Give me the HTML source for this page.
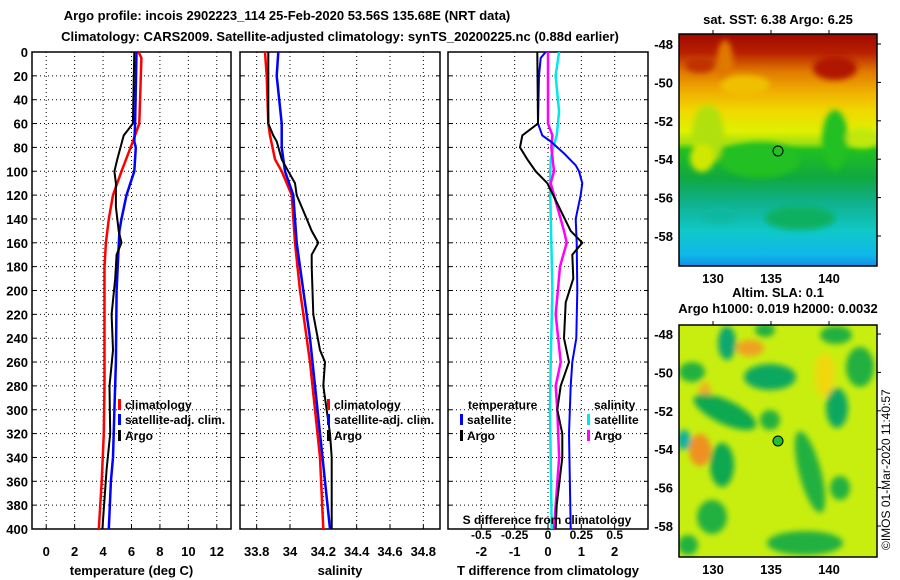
<!DOCTYPE html>
<html><head><meta charset="utf-8">
<style>
html,body{margin:0;padding:0;background:#fff;}
svg{display:block;font-family:"Liberation Sans",Arial,sans-serif;font-weight:bold;}
</style></head>
<body>
<svg id="c" width="900" height="580" viewBox="0 0 900 580" xmlns="http://www.w3.org/2000/svg">
<defs>
<linearGradient id="sstg" x1="0" y1="0" x2="0" y2="1">
<stop offset="0" stop-color="#a00800"/><stop offset="0.08" stop-color="#b82000"/>
<stop offset="0.16" stop-color="#e07800"/><stop offset="0.25" stop-color="#f0b000"/>
<stop offset="0.33" stop-color="#f0d800"/><stop offset="0.42" stop-color="#e0f000"/>
<stop offset="0.47" stop-color="#a0e010"/><stop offset="0.50" stop-color="#20c020"/>
<stop offset="0.62" stop-color="#10a840"/><stop offset="0.72" stop-color="#10b088"/>
<stop offset="0.85" stop-color="#10c8c8"/><stop offset="0.95" stop-color="#10b8e8"/>
<stop offset="1" stop-color="#1090e8"/></linearGradient>
<filter id="bl" x="-50%" y="-50%" width="200%" height="200%"><feGaussianBlur stdDeviation="3"/></filter>
<clipPath id="clipTop"><rect x="679" y="34" width="198" height="232"/></clipPath>
<clipPath id="clipBot"><rect x="679" y="325" width="198" height="232"/></clipPath>
</defs>
<text x="287" y="20" font-size="13" text-anchor="middle">Argo profile: incois 2902223_114 25-Feb-2020 53.56S 135.68E (NRT data)</text>
<text x="340" y="41" font-size="13" text-anchor="middle">Climatology: CARS2009. Satellite-adjusted climatology: synTS_20200225.nc (0.88d earlier)</text>
<g id="plots"></g>
<!-- SST map -->
<g clip-path="url(#clipTop)">
<rect x="679" y="34" width="198" height="232" fill="url(#sstg)"/>
<g filter="url(#bl)">
<ellipse cx="725" cy="62" rx="8" ry="22" fill="#e07800"/>
<ellipse cx="700" cy="65" rx="15" ry="8" fill="#c03000"/>
<ellipse cx="835" cy="68" rx="22" ry="12" fill="#b01800"/>
<ellipse cx="745" cy="85" rx="25" ry="10" fill="#f0c000"/>
<ellipse cx="708" cy="135" rx="16" ry="30" fill="#b0e010"/>
<ellipse cx="702" cy="158" rx="12" ry="14" fill="#d0e800"/>
<ellipse cx="760" cy="160" rx="40" ry="18" fill="#20c020"/>
<ellipse cx="835" cy="140" rx="13" ry="30" fill="#20c020"/>
<ellipse cx="862" cy="138" rx="16" ry="10" fill="#c0e810"/>
<ellipse cx="800" cy="218" rx="35" ry="12" fill="#10b060"/>
<ellipse cx="720" cy="215" rx="18" ry="8" fill="#10b8a0"/>
</g></g>
<rect x="679" y="34" width="198" height="232" fill="none" stroke="#000" stroke-width="1.5"/>
<circle cx="778" cy="151" r="5" fill="none" stroke="#000"/>
<text x="778" y="24" font-size="13" text-anchor="middle">sat. SST: 6.38 Argo: 6.25</text>
<!-- SLA map -->
<g clip-path="url(#clipBot)">
<rect x="679" y="325" width="198" height="232" fill="#c8ee10"/>
<g filter="url(#bl)">
<ellipse cx="750" cy="348" rx="14" ry="8" fill="#f0a020"/>
<ellipse cx="700" cy="450" rx="11" ry="16" fill="#f09020"/>
<ellipse cx="705" cy="392" rx="6" ry="10" fill="#f0b020"/>
<ellipse cx="825" cy="375" rx="10" ry="22" fill="#f0d810"/>
<ellipse cx="727" cy="343" rx="9" ry="17" fill="#10a870"/>
<ellipse cx="770" cy="377" rx="26" ry="13" fill="#10a860"/>
<ellipse cx="725" cy="412" rx="34" ry="12" fill="#10a850" transform="rotate(25 725 412)"/>
<ellipse cx="722" cy="465" rx="12" ry="22" fill="#10a850"/>
<ellipse cx="684" cy="440" rx="7" ry="10" fill="#10b0a0"/>
<ellipse cx="810" cy="472" rx="11" ry="42" fill="#20b040" transform="rotate(-15 810 472)"/>
<ellipse cx="837" cy="408" rx="11" ry="20" fill="#10a860"/>
<ellipse cx="860" cy="367" rx="14" ry="20" fill="#20b040"/>
<ellipse cx="840" cy="488" rx="10" ry="12" fill="#20b040"/>
<ellipse cx="712" cy="517" rx="15" ry="17" fill="#20b040"/>
<ellipse cx="805" cy="543" rx="38" ry="12" fill="#20b040"/>
<ellipse cx="836" cy="335" rx="16" ry="9" fill="#20b040"/>
<ellipse cx="765" cy="330" rx="10" ry="7" fill="#20b040"/>
<ellipse cx="692" cy="372" rx="13" ry="10" fill="#20b040"/>
<ellipse cx="688" cy="545" rx="10" ry="10" fill="#20b040"/>
<ellipse cx="770" cy="420" rx="10" ry="10" fill="#20b040"/>
</g></g>
<rect x="679" y="325" width="198" height="232" fill="none" stroke="#000" stroke-width="1.5"/>
<circle cx="778" cy="441" r="5" fill="#20c030" stroke="#000"/>
<text x="778" y="297" font-size="13" text-anchor="middle">Altim. SLA: 0.1</text>
<text x="778" y="313" font-size="13" text-anchor="middle">Argo h1000: 0.019 h2000: 0.0032</text>
<text transform="translate(890,550) rotate(-90)" font-size="12" font-weight="normal">©IMOS 01-Mar-2020 11:40:57</text>
<g id="maps"></g>
<script>
const depths = [0,20,40,60,80,100,120,140,160,180,200,220,240,260,280,300,320,340,360,380,400];
// Temperature profiles (depth, value)
const tClimD = [0,5,60,75,100,120,140,160,180,240,280,320,360,400];
const tClimV = [6.5,6.7,6.55,6.1,5.3,4.7,4.4,4.2,4.1,4.1,4.1,4.05,3.9,3.7];
const tSatD = [0,60,75,80,100,120,140,150,200,260,300,340,360,400];
const tSatV = [6.35,6.25,6.2,6.3,6.2,5.65,5.3,5.15,4.95,4.9,4.8,4.7,4.55,4.4];
const tArgoD = [0,60,70,90,100,110,130,150,160,170,190,220,250,280,320,350,400];
const tArgoV = [6.2,6.1,5.45,5.0,4.8,4.9,4.9,5.1,5.3,4.95,4.85,4.6,4.7,4.45,4.5,4.25,3.95];
// Salinity profiles
const sClimD = [0,20,60,70,90,100,110,120,160,200,240,260,300,340,400];
const sClimV = [33.85,33.86,33.87,33.88,33.91,33.95,33.98,34.01,34.03,34.06,34.1,34.12,34.15,34.18,34.2];
const sSatD = [0,20,60,80,100,120,160,200,240,280,320,360,400];
const sSatV = [33.93,33.92,33.95,33.95,33.97,34.02,34.04,34.08,34.12,34.15,34.18,34.21,34.24];
const sArgoD = [0,60,70,75,90,100,110,120,140,150,160,170,180,220,250,260,280,320,340,400];
const sArgoV = [33.87,33.87,33.9,33.92,33.95,33.99,34.03,34.04,34.1,34.13,34.17,34.13,34.13,34.14,34.18,34.21,34.2,34.24,34.25,34.25];
// Differences from climatology
const dtSatD = [0,5,20,60,70,75,85,95,100,110,120,140,160,200,240,260,280,320,400];
const dtSatV = [-0.07,-0.22,-0.27,-0.3,-0.17,0.08,0.48,0.83,0.93,1.03,0.98,0.83,0.86,0.88,0.85,0.73,0.68,0.63,0.68];
const dtArgoD = [0,60,70,80,90,100,110,130,150,160,170,190,210,240,260,280,300,320,340,380,400];
const dtArgoV = [-0.32,-0.3,-0.77,-0.84,-0.62,-0.37,-0.02,0.33,0.68,1.03,0.73,0.76,0.53,0.48,0.63,0.38,0.28,0.43,0.43,0.26,0.23];
const dsSatD = [0,20,50,70,80,90,110,200,260,300,340,400];
const dsSatV = [0.083,0.057,0.083,0.065,0.04,0.02,0.015,0.033,0.02,0.015,0.02,0.028];
const dsArgoD = [0,60,70,80,100,110,130,150,160,180,220,260,280,300,340,380,400];
const dsArgoV = [0,0,0.033,0.025,0.045,0.02,0.07,0.12,0.14,0.09,0.058,0.095,0.058,0.07,0.083,0.058,0.045];
const tTicks = [0,2,4,6,8,10,12];
const sTicks = [33.8,34,34.2,34.4,34.6,34.8];
const dTicks = [-2,-1,0,1,2];
const dsTicks = [-0.5,-0.25,0,0.25,0.5];
const dsTickLabels = ["-0.5","-0.25","0","0.25","0.5"];

const NS='http://www.w3.org/2000/svg';
const root=document.getElementById('plots');
const Y0=52, Y1=529;
function yD(d){return Y0+(d/400)*(Y1-Y0);}
function mk(tag,attrs,parent){const e=document.createElementNS(NS,tag);for(const k in attrs)e.setAttribute(k,attrs[k]);(parent||root).appendChild(e);return e;}
function txt(x,y,s,anchor,size,parent){const t=mk('text',{x:x,y:y,'text-anchor':anchor||'middle','font-size':size||13},parent);t.textContent=s;return t;}

function panel(name,x0,x1,lo,hi,xt,xtl,title,showY){
  const g=mk('g',{});
  
  
  const sx=v=>x0+(v-lo)/(hi-lo)*(x1-x0);
  depths.forEach(d=>{
    if(d>0&&d<400){const l=mk('line',{x1:x0,x2:x1,y1:yD(d),y2:yD(d),stroke:'#000','stroke-dasharray':'1,3','stroke-width':1},g);
    
    }
    mk('line',{x1:x0,x2:x0+4,y1:yD(d),y2:yD(d),stroke:'#000'},g);
    mk('line',{x1:x1-4,x2:x1,y1:yD(d),y2:yD(d),stroke:'#000'},g);
    if(showY){const t=txt(x0-4,yD(d)+5,String(d),'end',13,g);
      
      }
  });
  xt.forEach((v,i)=>{
    const X=sx(v);
    const l=mk('line',{x1:X,x2:X,y1:Y0,y2:Y1,stroke:'#000','stroke-dasharray':'1,3'},g);
    
    
    mk('line',{x1:X,x2:X,y1:Y1-4,y2:Y1,stroke:'#000'},g);
    const t=txt(X,Y1+27,xtl?xtl[i]:String(v),'middle',13,g);
    
    
  });
  const f=mk('rect',{x:x0,y:Y0,width:x1-x0,height:Y1-Y0,fill:'none',stroke:'#000','stroke-width':1.5},g);
  
  
  const tt=txt((x0+x1)/2,Y1+46,title,'middle',13,g);
  
  
  return {g,sx};
}
function line(p,sx,D,V,color,w,name){
  const pts=D.map((d,i)=>sx(V[i]).toFixed(1)+','+yD(d).toFixed(1)).join(' ');
  const l=mk('polyline',{points:pts,fill:'none',stroke:color,'stroke-width':w},p.g);
  
  
}
function legend(g,x,y,color,label){
  const m=mk('rect',{x:x,y:y-10,width:3,height:11,fill:color},g);
  
  
  const t=txt(x+7,y,label,'start',12,g);
  
  
}

const p1=panel('temperature-panel',32,231,-1,13,tTicks,null,'temperature (deg C)',true);
line(p1,p1.sx,tClimD,tClimV,'#f00',2.5,'temp-climatology-line');
line(p1,p1.sx,tSatD,tSatV,'#00f',2.5,'temp-satellite-line');
line(p1,p1.sx,tArgoD,tArgoV,'#000',2,'temp-argo-line');
legend(p1.g,118,409,'#f00','climatology');
legend(p1.g,118,424,'#00f','satellite-adj. clim.');
legend(p1.g,118,440,'#000','Argo');

const p2=panel('salinity-panel',240,440,33.7,34.9,sTicks,null,'salinity',false);
line(p2,p2.sx,sClimD,sClimV,'#f00',2.5,'sal-climatology-line');
line(p2,p2.sx,sSatD,sSatV,'#00f',2.5,'sal-satellite-line');
line(p2,p2.sx,sArgoD,sArgoV,'#000',2,'sal-argo-line');
legend(p2.g,327,409,'#f00','climatology');
legend(p2.g,327,424,'#00f','satellite-adj. clim.');
legend(p2.g,327,440,'#000','Argo');

const p3=panel('difference-panel',448,648,-3,3,dTicks,null,'T difference from climatology',false);
const sxS=v=>448+(v+0.75)/1.5*200;
line(p3,sxS,dsSatD,dsSatV,'#00e8e8',2.5,'sal-diff-satellite-line');
line(p3,sxS,dsArgoD,dsArgoV,'#f0f',2.5,'sal-diff-argo-line');
line(p3,p3.sx,dtSatD,dtSatV,'#00f',2,'temp-diff-satellite-line');
line(p3,p3.sx,dtArgoD,dtArgoV,'#000',2,'temp-diff-argo-line');
dsTicks.forEach((v,i)=>{
  const t=txt(sxS(v),539,dsTickLabels[i],'middle',12,p3.g);
  
  
});
const st=txt(547,524,'S difference from climatology','middle',12,p3.g);


const lt=txt(468,409,'temperature','start',12,p3.g);


const ls=txt(594,409,'salinity','start',12,p3.g);


legend(p3.g,460,424,'#00f','satellite');
legend(p3.g,460,440,'#000','Argo');
legend(p3.g,587,424,'#00e8e8','satellite');
legend(p3.g,587,440,'#f0f','Argo');

// map axes
const lats=[-48,-50,-52,-54,-56,-58];
const lons=[130,135,140];
const mg=document.getElementById('maps');
[[34,44],[325,334]].forEach(([top,lat48])=>{
  lats.forEach(la=>{
    const y=lat48+(-48-la)*19.2;
    mk('line',{x1:877,x2:881,y1:y,y2:y,stroke:'#000'},mg);
    const t=txt(673,y+5,String(la),'end',13,mg);
    
    
  });
  lons.forEach(lo=>{
    const x=713+(lo-130)*11.6;
    mk('line',{x1:x,x2:x,y1:top-4,y2:top,stroke:'#000'},mg);
    const t=txt(x,top+232+17,String(lo),'middle',13,mg);
    
    
  });
});
</script>
</svg>
</body></html>
